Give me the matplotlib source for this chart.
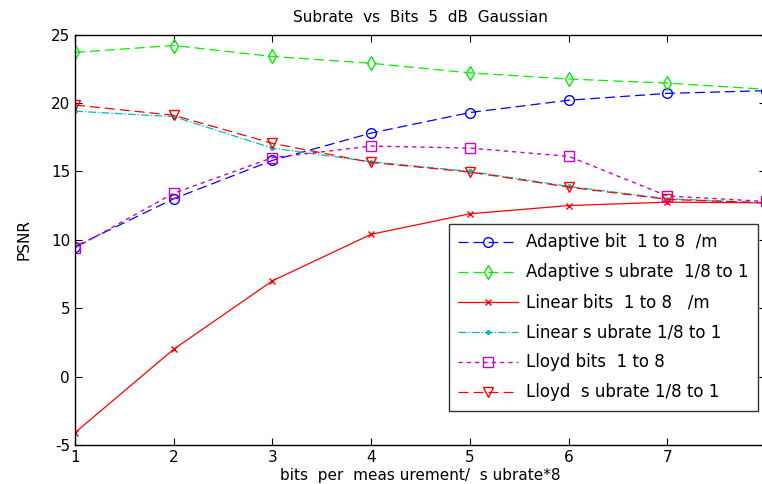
import numpy as np
import matplotlib
matplotlib.use('Agg')
import matplotlib.pyplot as plt

plt.rcParams['font.family'] = ['DejaVu Sans']
plt.rcParams['axes.unicode_minus'] = False

# data
bits = [1, 2, 3, 4, 5, 6, 7, 8]
adaptive_bit = [9.5, 13.0, 15.8, 17.8, 19.3, 20.2, 20.7, 20.9]
adaptive_sub = [23.7, 24.2, 23.4, 22.9, 22.2, 21.75, 21.45, 21.0]
linear_bits = [-4.1, 2.0, 7.0, 10.4, 11.9, 12.5, 12.75, 12.7]
linear_sub = [19.4, 19.0, 16.7, 15.7, 15.0, 13.9, 13.0, 12.7]
lloyd_bits = [9.4, 13.4, 16.0, 16.85, 16.7, 16.1, 13.2, 12.8]
lloyd_sub = [19.85, 19.1, 17.05, 15.65, 14.95, 13.85, 12.95, 12.7]

labels = ['Adaptive bit  1 to 8  /m',
          'Adaptive s ubrate  1/8 to 1',
          'Linear bits  1 to 8   /m',
          'Linear s ubrate 1/8 to 1',
          'Lloyd bits  1 to 8',
          'Lloyd  s ubrate 1/8 to 1']

fig = plt.figure(figsize=(7.62, 4.84), dpi=100)
ax = fig.add_axes([0.0984, 0.0806, 0.907, 0.848])

ax.plot(bits, adaptive_bit, '--', color='blue', marker='o', mfc='none',
        ms=7, lw=0.9, dashes=(8, 4), label=labels[0])
ax.plot(bits, adaptive_sub, '--', color='#00ee00', marker='d', mfc='none',
        ms=7, lw=0.9, dashes=(8, 4), label=labels[1])
ax.plot(bits, linear_bits, '-', color='red', marker='x', ms=4, lw=0.9,
        label=labels[2])
ax.plot(bits, linear_sub, '-.', color='#00bbbb', marker='.', ms=5, lw=0.9,
        label=labels[3])
ax.plot(bits, lloyd_bits, ':', color='#cc00cc', marker='s', mfc='none',
        ms=7, lw=1.0, dashes=(3, 3), label=labels[4])
ax.plot(bits, lloyd_sub, '--', color='red', marker='v', mfc='none',
        ms=7, lw=0.9, dashes=(8, 4), label=labels[5])

ax.set_xlim(1, 8)
ax.set_ylim(-5, 25)
ax.set_xticks(bits)
ax.set_yticks([-5, 0, 5, 10, 15, 20, 25])
ax.tick_params(direction='in', top=True, right=True, labelsize=11, length=5)
for s in ax.spines.values():
    s.set_linewidth(1.0)

ax.set_title('Subrate  vs  Bits  5  dB  Gaussian', fontsize=11, pad=9)
ax.set_xlabel('bits  per  meas urement/  s ubrate*8', fontsize=11, labelpad=2)
ax.set_ylabel('PSNR', fontsize=11, labelpad=14)

leg = ax.legend(loc='upper left', bbox_to_anchor=(0.541, 0.538),
                fontsize=12, frameon=True, fancybox=False, edgecolor='black',
                labelspacing=0.72, handlelength=3.6, handletextpad=0.5,
                borderaxespad=0, borderpad=0.55)
leg.get_frame().set_linewidth(1.0)

fig.savefig('out.png', dpi=100)
